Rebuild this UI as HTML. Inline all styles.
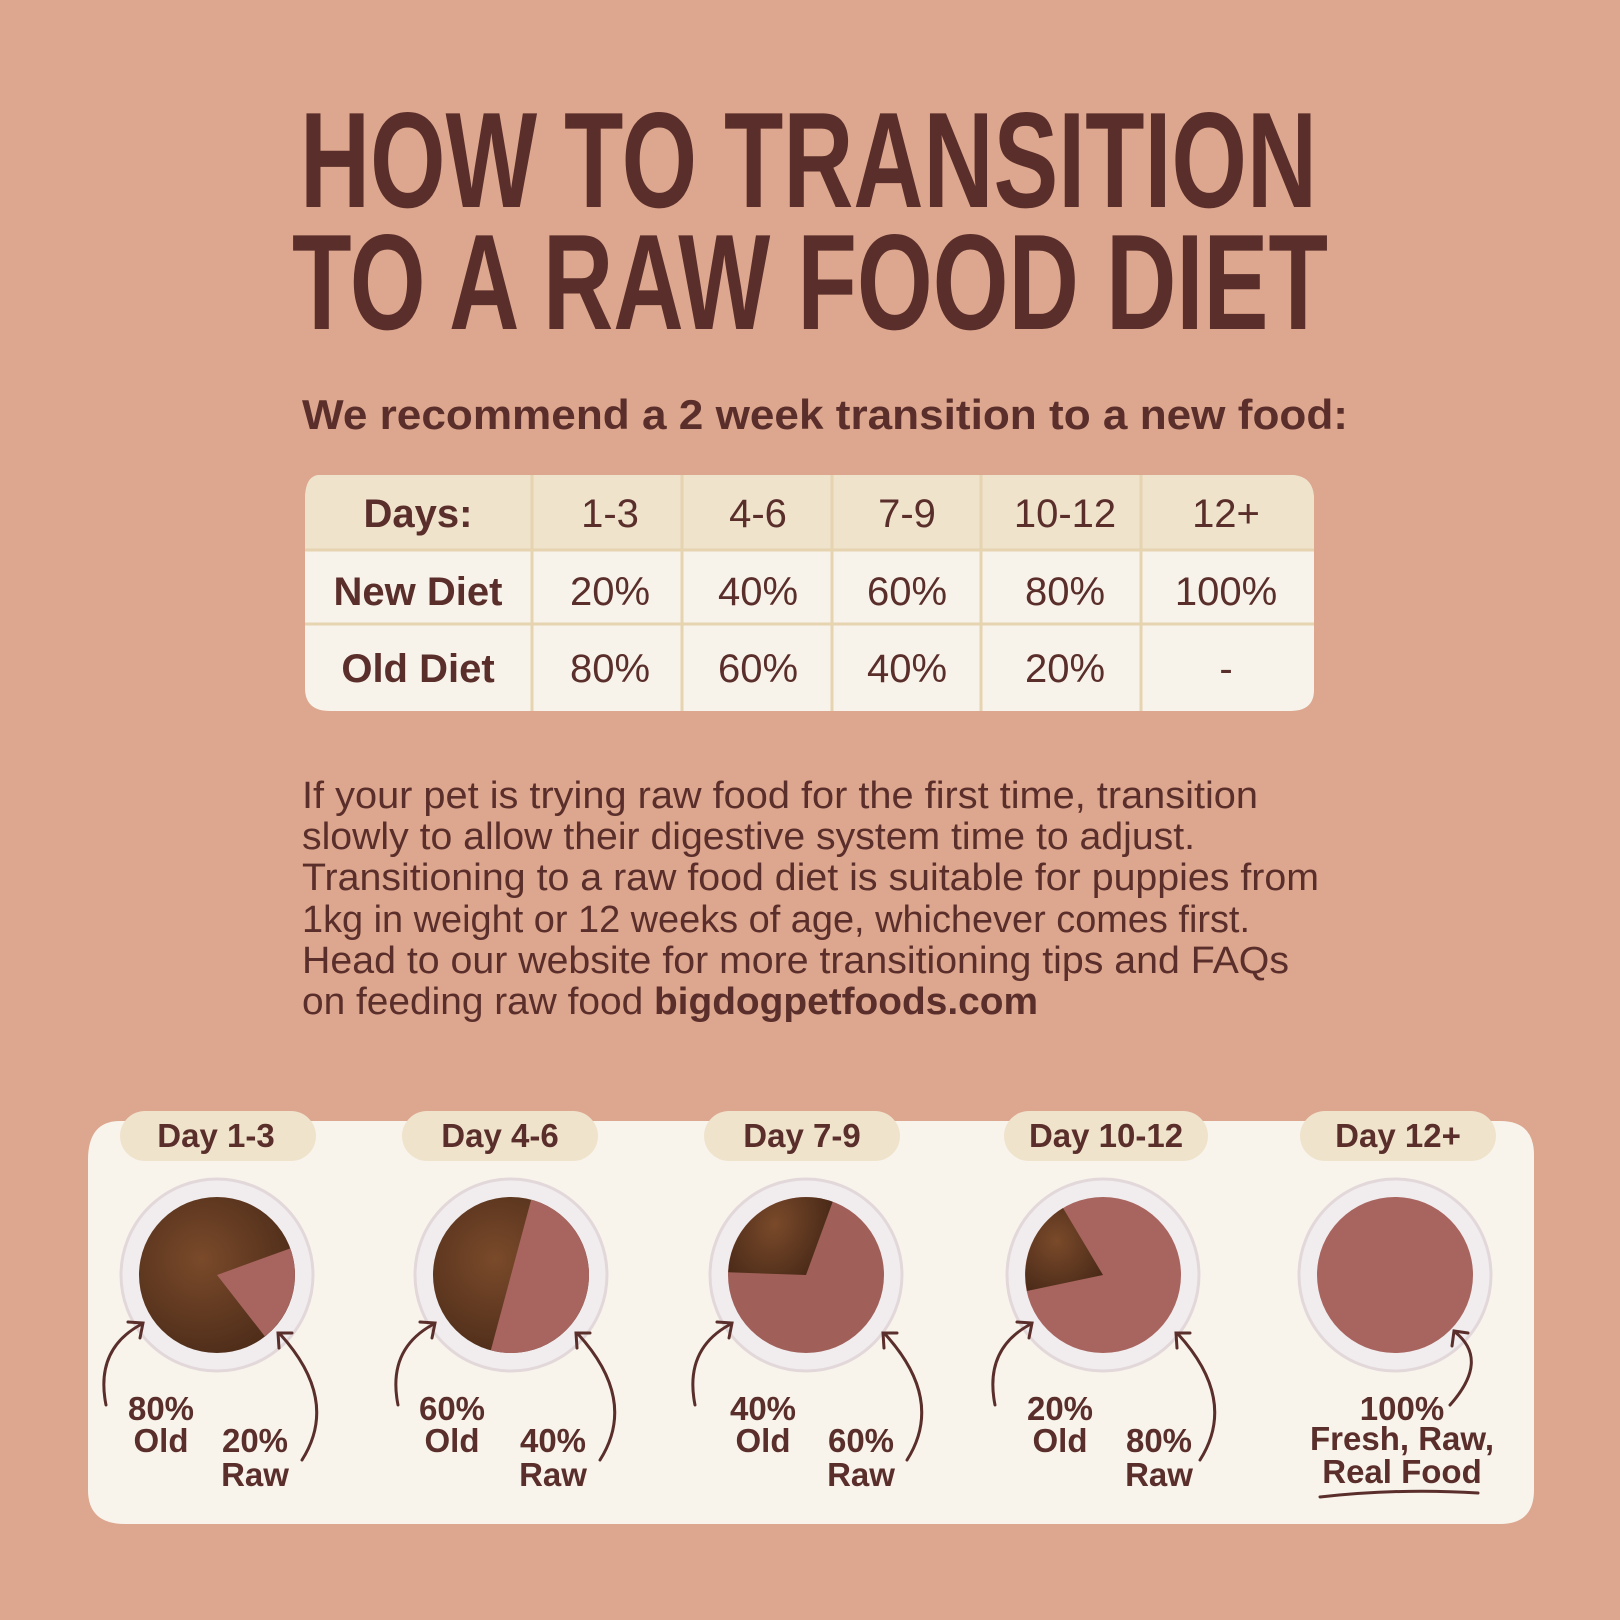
<!DOCTYPE html>
<html><head><meta charset="utf-8"><style>
html,body{margin:0;padding:0;background:#DDA68E}
svg{display:block}
text{font-family:"Liberation Sans",sans-serif;fill:#5A2E2A}
</style></head><body>
<svg width="1620" height="1620" viewBox="0 0 1620 1620" xmlns="http://www.w3.org/2000/svg">
<rect width="1620" height="1620" fill="#DDA68E"/>
<!-- Title -->
<text x="300" y="207" font-size="136" font-weight="bold" textLength="1017" lengthAdjust="spacingAndGlyphs">HOW TO TRANSITION</text>
<text x="292" y="329" font-size="136" font-weight="bold" textLength="1036" lengthAdjust="spacingAndGlyphs">TO A RAW FOOD DIET</text>
<text x="302" y="429" font-size="42" font-weight="bold" textLength="1046" lengthAdjust="spacingAndGlyphs">We recommend a 2 week transition to a new food:</text>
<!-- Table -->
<path d="M320 475 H1290 Q1314 475 1314 500 V690 Q1314 711 1290 711 H330 Q305 711 305 688 V500 Q305 475 320 475Z" fill="#F8F3EA"/>
<path d="M320 475 H1290 Q1314 475 1314 500 V550 H305 V500 Q305 475 320 475Z" fill="#EFE3CC"/>
<g stroke="#E6D3B0" stroke-width="3">
<line x1="305" y1="550" x2="1314" y2="550"/><line x1="305" y1="624" x2="1314" y2="624"/>
<line x1="532" y1="475" x2="532" y2="711"/><line x1="682" y1="475" x2="682" y2="711"/>
<line x1="832" y1="475" x2="832" y2="711"/><line x1="981" y1="475" x2="981" y2="711"/>
<line x1="1141" y1="475" x2="1141" y2="711"/>
</g>
<g font-size="40" text-anchor="middle">
<text x="418" y="527" font-weight="bold">Days:</text>
<text x="610" y="527">1-3</text><text x="758" y="527">4-6</text><text x="907" y="527">7-9</text><text x="1065" y="527">10-12</text><text x="1226" y="527">12+</text>
<text x="418" y="605" font-weight="bold">New Diet</text>
<text x="610" y="605">20%</text><text x="758" y="605">40%</text><text x="907" y="605">60%</text><text x="1065" y="605">80%</text><text x="1226" y="605">100%</text>
<text x="418" y="682" font-weight="bold">Old Diet</text>
<text x="610" y="682">80%</text><text x="758" y="682">60%</text><text x="907" y="682">40%</text><text x="1065" y="682">20%</text><text x="1226" y="682">-</text>
</g>
<!-- Paragraph -->
<g font-size="38">
<text x="302" y="808" textLength="956" lengthAdjust="spacingAndGlyphs">If your pet is trying raw food for the first time, transition</text>
<text x="302" y="849" textLength="893" lengthAdjust="spacingAndGlyphs">slowly to allow their digestive system time to adjust.</text>
<text x="302" y="890" textLength="1017" lengthAdjust="spacingAndGlyphs">Transitioning to a raw food diet is suitable for puppies from</text>
<text x="302" y="932" textLength="948" lengthAdjust="spacingAndGlyphs">1kg in weight or 12 weeks of age, whichever comes first.</text>
<text x="302" y="973" textLength="987" lengthAdjust="spacingAndGlyphs">Head to our website for more transitioning tips and  FAQs</text>
<text x="302" y="1014" textLength="736" lengthAdjust="spacingAndGlyphs">on feeding raw food <tspan font-weight="bold">bigdogpetfoods.com</tspan></text>
</g>
<!-- Bottom panel -->
<path d="M120 1121 H1500 Q1534 1121 1534 1155 V1490 Q1534 1524 1500 1524 H125 Q88 1524 88 1490 V1160 Q88 1121 120 1121Z" fill="#F8F4EC"/>
<g font-size="33" font-weight="bold" text-anchor="middle">
<rect x="120" y="1111" width="196" height="50" rx="25" fill="#EFE3CC"/><text x="216" y="1147">Day 1-3</text>
<rect x="402" y="1111" width="196" height="50" rx="25" fill="#EFE3CC"/><text x="500" y="1147">Day 4-6</text>
<rect x="704" y="1111" width="196" height="50" rx="25" fill="#EFE3CC"/><text x="802" y="1147">Day 7-9</text>
<rect x="1004" y="1111" width="204" height="50" rx="25" fill="#EFE3CC"/><text x="1106" y="1147">Day 10-12</text>
<rect x="1300" y="1111" width="196" height="50" rx="25" fill="#EFE3CC"/><text x="1398" y="1147">Day 12+</text>
</g>
<defs>
<radialGradient id="kib" cx="0.4" cy="0.4" r="0.7"><stop offset="0" stop-color="#7A4A2A"/><stop offset="1" stop-color="#4A2A18"/></radialGradient>
</defs>
<!-- bowls -->
<g>
<g transform="translate(217,1275)">
<circle r="96" fill="#F1ECEE" stroke="#E2D8DA" stroke-width="3"/><circle r="78" fill="url(#kib)"/>
<path d="M0 0 L78 0 A78 78 0 0 1 24 74Z" fill="#A8645E" transform="rotate(-20)"/>
</g>
<g transform="translate(511,1275)">
<circle r="96" fill="#F1ECEE" stroke="#E2D8DA" stroke-width="3"/><circle r="78" fill="url(#kib)"/>
<path d="M0 0 L0 -78 A78 78 0 0 1 0 78Z" fill="#A8645E" transform="rotate(15)"/>
</g>
<g transform="translate(806,1275)">
<circle r="96" fill="#F1ECEE" stroke="#E2D8DA" stroke-width="3"/><circle r="78" fill="#A05F58"/>
<path d="M0 0 L0 -78 A78 78 0 0 0 -74 24Z" fill="url(#kib)" transform="rotate(20)"/>
</g>
<g transform="translate(1103,1275)">
<circle r="96" fill="#F1ECEE" stroke="#E2D8DA" stroke-width="3"/><circle r="78" fill="#A8645E"/>
<path d="M0 0 L-40 -67 A78 78 0 0 0 -76 16Z" fill="url(#kib)"/>
</g>
<g transform="translate(1395,1275)">
<circle r="96" fill="#F1ECEE" stroke="#E2D8DA" stroke-width="3"/><circle r="78" fill="#A8645E"/>
</g>
</g>
<!-- arrows -->
<g fill="none" stroke="#5A2E2A" stroke-width="3" stroke-linecap="round">
<path d="M106 1405 Q95 1350 140 1325 M128 1322 L143 1323 L140 1338"/>
<path d="M302 1460 Q340 1400 280 1334 M279 1348 L278 1333 L292 1333"/>
<path d="M398 1405 Q387 1350 432 1325 M420 1322 L435 1323 L432 1338"/>
<path d="M600 1460 Q638 1400 578 1334 M577 1348 L576 1333 L590 1333"/>
<path d="M695 1405 Q684 1350 729 1325 M717 1322 L732 1323 L729 1338"/>
<path d="M907 1460 Q945 1400 885 1334 M884 1348 L883 1333 L897 1333"/>
<path d="M995 1405 Q984 1350 1029 1325 M1017 1322 L1032 1323 L1029 1338"/>
<path d="M1200 1460 Q1238 1400 1178 1334 M1177 1348 L1176 1333 L1190 1333"/>
<path d="M1450 1405 Q1490 1360 1455 1332 M1452 1346 L1454 1331 L1468 1333"/>
<path d="M1320 1497 Q1400 1488 1478 1493"/>
</g>
<!-- labels -->
<g font-size="33" font-weight="bold" text-anchor="middle">
<text x="161" y="1420">80%</text><text x="161" y="1452">Old</text><text x="255" y="1452">20%</text><text x="255" y="1486">Raw</text>
<text x="452" y="1420">60%</text><text x="452" y="1452">Old</text><text x="553" y="1452">40%</text><text x="553" y="1486">Raw</text>
<text x="763" y="1420">40%</text><text x="763" y="1452">Old</text><text x="861" y="1452">60%</text><text x="861" y="1486">Raw</text>
<text x="1060" y="1420">20%</text><text x="1060" y="1452">Old</text><text x="1159" y="1452">80%</text><text x="1159" y="1486">Raw</text>
<text x="1402" y="1420">100%</text><text x="1402" y="1450">Fresh, Raw,</text><text x="1402" y="1483">Real Food</text>
</g>
</svg>
</body></html>
